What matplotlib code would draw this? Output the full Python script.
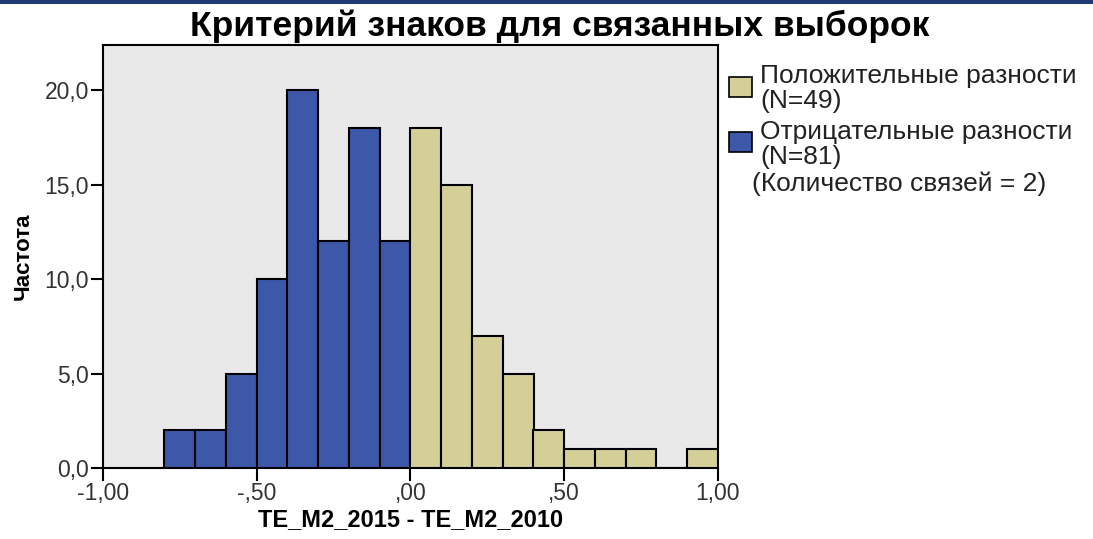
import matplotlib.pyplot as plt
from matplotlib.patches import Rectangle

plt.rcParams['font.family'] = ['Liberation Sans', 'DejaVu Sans']

# bin left edges (width 0.1) and counts
neg_left = [-0.8, -0.7, -0.6, -0.5, -0.4, -0.3, -0.2, -0.1]
neg_counts = [2, 2, 5, 10, 20, 12, 18, 12]
pos_left = [0.0, 0.1, 0.2, 0.3, 0.4, 0.5, 0.6, 0.7, 0.8, 0.9]
pos_counts = [18, 15, 7, 5, 2, 1, 1, 1, 0, 1]

xticks = [-1.0, -0.5, 0.0, 0.5, 1.0]
xtick_labels = ['-1,00', '-,50', ',00', ',50', '1,00']
yticks = [0, 5, 10, 15, 20]
ytick_labels = ['0,0', '5,0', '10,0', '15,0', '20,0']

pos_label = ['Положительные разности', '(N=49)']
neg_label = ['Отрицательные разности', '(N=81)']
ties_note = '(Количество связей = 2)'

BLUE = '#3d58a9'
TAN = '#d3cf97'
W, H = 1093, 539

fig = plt.figure(figsize=(10.93, 5.39), dpi=100)
ax = fig.add_axes([103 / W, 1 - 468 / H, (718 - 103) / W, (468 - 45) / H])
ax.set_facecolor('#e9e9e9')

ax.bar(neg_left, neg_counts, width=0.1, align='edge', color=BLUE,
       edgecolor='black', linewidth=1.5, zorder=3)
ax.bar(pos_left, pos_counts, width=0.1, align='edge', color=TAN,
       edgecolor='black', linewidth=1.5, zorder=3)

ax.set_xlim(-1, 1)
ax.set_ylim(0, 22.4)
ax.set_xticks(xticks)
ax.set_xticklabels(xtick_labels)
ax.set_yticks(yticks)
ax.set_yticklabels(ytick_labels)
ax.tick_params(direction='out', length=9, width=1.5, labelsize=16.5,
               labelcolor='#333333', pad=1)
for sp in ax.spines.values():
    sp.set_linewidth(1.5)

ax.set_xlabel('TE_M2_2015 - TE_M2_2010', fontsize=17, fontweight='bold', labelpad=2)
ax.set_ylabel('Частота', fontsize=16, fontweight='bold', labelpad=8)
fig.text(560 / W, 1 - 26 / H, 'Критерий знаков для связанных выборок',
         ha='center', va='center', fontsize=25.5, fontweight='bold')

# legend drawn by hand on the right
fig.patches.append(Rectangle((729 / W, 1 - 97 / H), 23 / W, 20 / H, transform=fig.transFigure,
                             facecolor=TAN, edgecolor='black', linewidth=1.2))
fig.patches.append(Rectangle((729 / W, 1 - 152 / H), 23 / W, 20 / H, transform=fig.transFigure,
                             facecolor=BLUE, edgecolor='black', linewidth=1.2))
for i, line in enumerate(pos_label):
    fig.text(760 / W, 1 - (76 + 25 * i) / H, line, ha='left', va='center',
             fontsize=19, color='#222222')
for i, line in enumerate(neg_label):
    fig.text(760 / W, 1 - (132 + 25 * i) / H, line, ha='left', va='center',
             fontsize=19, color='#222222')
fig.text(752 / W, 1 - 184 / H, ties_note, ha='left', va='center', fontsize=19,
         color='#222222')

# dark band at the top edge
fig.patches.append(Rectangle((0, 1 - 4 / H), 1, 4 / H, transform=fig.transFigure,
                             facecolor='#1f3a72', edgecolor='none'))

fig.savefig('out.png', dpi=100)
